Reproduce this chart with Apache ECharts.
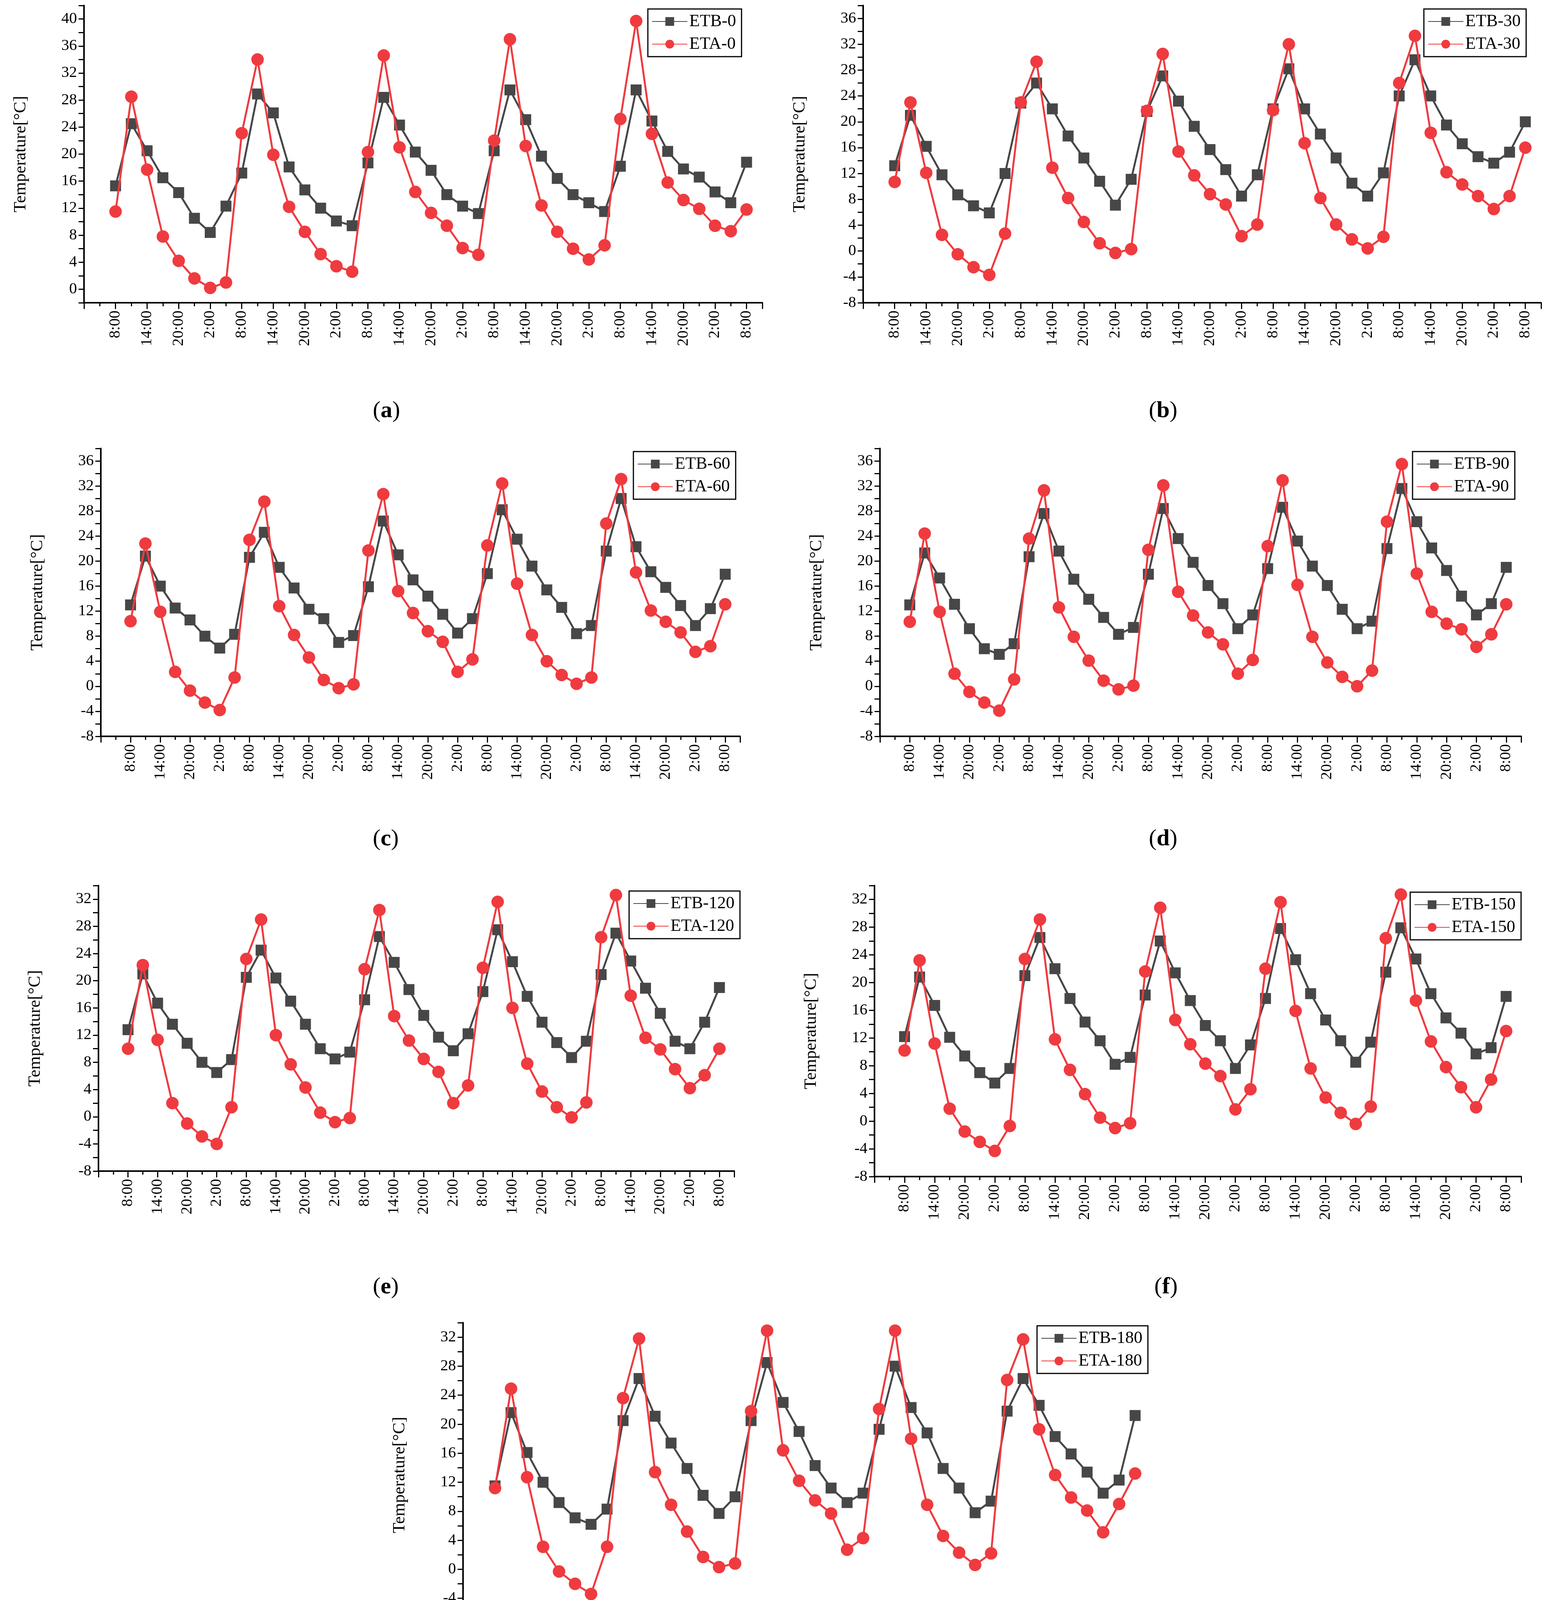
<!DOCTYPE html>
<html><head><meta charset="utf-8">
<script src="https://cdn.jsdelivr.net/npm/echarts@6/dist/echarts.min.js"></script>
<style>html,body{margin:0;padding:0;background:#fff}#c{width:3954px;height:4488px}</style>
</head><body><div id="c"></div>
<script>
const timeLabels = ['8:00','11:00','14:00','17:00','20:00','23:00','2:00','5:00'];
const categories = [];
for (let d = 0; d < 5; d++) for (const t of timeLabels) categories.push(t);
categories.push('8:00');

const panelNames = ['0','30','60','90','120','150','180'];
const letters = ['a','b','c','d','e','f','g'];

const ETB_0 = [15.3,24.5,20.5,16.5,14.3,10.5,8.4,12.3, 17.2,28.9,26.1,18.1,14.7,12.0,10.1,9.4, 18.7,28.4,24.3,20.3,17.6,14.0,12.3,11.2, 20.5,29.5,25.1,19.7,16.4,14.0,12.8,11.5, 18.2,29.5,24.9,20.4,17.8,16.6,14.4,12.8, 18.8];
const ETA_0 = [11.5,28.5,17.7,7.8,4.2,1.6,0.2,1.0, 23.1,34.0,19.9,12.2,8.5,5.2,3.4,2.6, 20.3,34.6,21.0,14.4,11.3,9.4,6.1,5.1, 22.0,37.0,21.2,12.4,8.5,6.0,4.4,6.5, 25.2,39.7,23.0,15.8,13.2,11.9,9.4,8.6, 11.8];
const ETB_30 = [13.2,21.0,16.2,11.8,8.7,7.0,5.9,12.0, 22.9,26.0,22.0,17.8,14.4,10.8,7.1,11.1, 21.6,27.1,23.2,19.3,15.7,12.6,8.5,11.8, 22.0,28.2,22.0,18.1,14.4,10.5,8.5,12.1, 24.0,29.6,24.0,19.5,16.6,14.6,13.6,15.3, 20.0];
const ETA_30 = [10.7,23.0,12.1,2.5,-0.5,-2.5,-3.7,2.7, 23.0,29.3,12.9,8.2,4.5,1.2,-0.3,0.3, 21.7,30.5,15.4,11.7,8.8,7.2,2.3,4.1, 21.8,32.0,16.7,8.2,4.1,1.8,0.4,2.2, 26.0,33.3,18.3,12.2,10.3,8.5,6.5,8.5, 16.0];
const ETB_60 = [13.0,20.8,16.0,12.5,10.6,8.0,6.1,8.3, 20.6,24.6,19.0,15.7,12.3,10.8,7.0,8.1, 15.9,26.4,21.0,17.0,14.4,11.5,8.5,10.8, 18.0,28.2,23.5,19.2,15.4,12.6,8.4,9.7, 21.6,30.0,22.3,18.3,15.8,12.9,9.7,12.4, 17.9];
const ETA_60 = [10.4,22.8,11.9,2.3,-0.7,-2.6,-3.8,1.4, 23.4,29.5,12.8,8.2,4.6,1.0,-0.3,0.3, 21.7,30.7,15.2,11.7,8.8,7.1,2.3,4.3, 22.5,32.4,16.4,8.2,4.0,1.8,0.4,1.4, 26.0,33.1,18.2,12.1,10.3,8.6,5.5,6.4, 13.1];
const ETB_90 = [13.0,21.3,17.3,13.1,9.2,6.0,5.1,6.8, 20.7,27.6,21.6,17.1,13.9,11.0,8.3,9.4, 17.9,28.4,23.6,19.8,16.1,13.2,9.2,11.4, 18.8,28.6,23.2,19.2,16.1,12.3,9.2,10.4, 22.0,31.6,26.3,22.1,18.5,14.4,11.4,13.2, 19.0];
const ETA_90 = [10.3,24.4,11.9,2.0,-0.9,-2.6,-3.9,1.1, 23.6,31.3,12.6,7.9,4.1,0.9,-0.5,0.1, 21.8,32.1,15.1,11.3,8.6,6.7,2.0,4.2, 22.4,32.9,16.2,7.9,3.8,1.5,0.0,2.5, 26.3,35.5,18.0,11.9,10.0,9.1,6.3,8.3, 13.1];
const ETB_120 = [12.8,21.0,16.7,13.6,10.8,8.0,6.5,8.4, 20.5,24.5,20.4,17.0,13.6,10.0,8.5,9.5, 17.2,26.5,22.7,18.7,14.9,11.7,9.7,12.2, 18.4,27.5,22.8,17.7,13.9,10.9,8.7,11.1, 20.9,27.0,22.9,18.9,15.2,11.1,10.0,13.9, 19.0];
const ETA_120 = [10.0,22.3,11.3,2.0,-1.0,-2.9,-4.0,1.4, 23.2,29.0,12.0,7.7,4.3,0.6,-0.8,-0.2, 21.7,30.4,14.8,11.2,8.5,6.6,2.0,4.6, 21.9,31.6,16.0,7.8,3.7,1.4,-0.1,2.1, 26.4,32.6,17.8,11.6,9.9,7.0,4.2,6.1, 10.0];
const ETB_150 = [12.2,20.8,16.7,12.1,9.4,7.0,5.5,7.6, 21.0,26.5,22.0,17.7,14.3,11.6,8.2,9.2, 18.2,26.0,21.4,17.4,13.8,11.6,7.6,11.0, 17.7,27.8,23.3,18.4,14.6,11.6,8.5,11.4, 21.5,27.9,23.4,18.4,14.9,12.7,9.7,10.6, 18.0];
const ETA_150 = [10.2,23.2,11.2,1.8,-1.5,-3.0,-4.3,-0.7, 23.4,29.1,11.8,7.4,3.9,0.5,-1.0,-0.3, 21.6,30.8,14.6,11.1,8.3,6.5,1.7,4.6, 22.0,31.6,15.9,7.6,3.4,1.2,-0.4,2.1, 26.4,32.7,17.4,11.5,7.8,4.9,2.0,6.0, 13.0];
const ETB_180 = [11.5,21.6,16.1,12.0,9.2,7.1,6.2,8.3, 20.5,26.3,21.1,17.4,13.9,10.2,7.7,10.0, 20.5,28.5,23.0,19.0,14.3,11.2,9.2,10.5, 19.3,28.0,22.3,18.8,13.9,11.2,7.8,9.4, 21.8,26.3,22.6,18.3,15.9,13.4,10.5,12.3, 21.2];
const ETA_180 = [11.2,24.9,12.7,3.1,-0.3,-2.0,-3.4,3.1, 23.6,31.8,13.4,8.9,5.2,1.7,0.3,0.8, 21.8,32.9,16.4,12.2,9.5,7.7,2.7,4.3, 22.1,32.9,18.0,8.9,4.6,2.3,0.6,2.2, 26.1,31.7,19.3,13.0,9.9,8.1,5.1,9.0, 13.2];

const ETB = [ETB_0,ETB_30,ETB_60,ETB_90,ETB_120,ETB_150,ETB_180];
const ETA = [ETA_0,ETA_30,ETA_60,ETA_90,ETA_120,ETA_150,ETA_180];
const yRanges = [[-2,42,0,40],[-8,38,-8,36],[-8,38,-8,36],[-8,38,-8,36],[-8,34,-8,32],[-8,34,-8,32],[-8,34,-8,32]];

const grids = [
  {left:215, top:14, right:3954-1951, bottom:4488-775},
  {left:2209, top:14, right:3954-3944, bottom:4488-775},
  {left:258, top:1148, right:3954-1894, bottom:4488-1885},
  {left:2252, top:1148, right:3954-3893, bottom:4488-1885},
  {left:252, top:2267, right:3954-1879, bottom:4488-2998},
  {left:2238, top:2267, right:3954-3893, bottom:4488-3012},
  {left:1185, top:3386, right:3954-2946, bottom:4488-4166}
];
const legendPos = [[1658,23],[3644,23],[1621,1156],[3615,1156],[1610,2281],[3609,2284],[2654,3394]];
const letterPos = [[984,1056],[2970,1056],[984,2152],[2970,2152],[984,3299],[2984,3299],[1988,4441]];

const FONT = 'Liberation Serif';
const opt = {backgroundColor:'#fff', animation:false, grid:[], xAxis:[], yAxis:[], series:[], legend:[], graphic:[]};
for (let i = 0; i < 7; i++) {
  opt.grid.push(Object.assign({containLabel:false}, grids[i]));
  opt.xAxis.push({
    type:'value', gridIndex:i, min:-2, max:41, interval:2,
    axisLine:{show:true, onZero:false, lineStyle:{color:'#000', width:4}},
    axisTick:{show:true, length:16, inside:false, lineStyle:{color:'#000', width:3}},
    minorTick:{show:true, splitNumber:2, length:9, lineStyle:{color:'#000', width:3}},
    splitLine:{show:false},
    axisLabel:{rotate:90, margin:20, fontFamily:FONT, fontSize:40, color:'#000',
      formatter:v => (v >= 0 && v <= 40 && v % 2 === 0) ? categories[v] : ''}
  });
  const yr = yRanges[i];
  opt.yAxis.push({
    type:'value', gridIndex:i, min:yr[0], max:yr[1], interval:2,
    name:'Temperature[°C]', nameLocation:'middle', nameGap:140,
    nameTextStyle:{fontFamily:FONT, fontSize:44, color:'#000'},
    axisLine:{show:true, onZero:false, lineStyle:{color:'#000', width:4}},
    axisTick:{show:true, length:14, lineStyle:{color:'#000', width:3}},
    splitLine:{show:false},
    axisLabel:{margin:18, fontFamily:FONT, fontSize:40, color:'#000',
      formatter:v => (v >= yr[2] && v <= yr[3] && v % 4 === 0) ? String(v) : ''}
  });
  const nB = 'ETB-' + panelNames[i], nA = 'ETA-' + panelNames[i];
  opt.series.push({
    name:nB, type:'line', xAxisIndex:i, yAxisIndex:i,
    data:ETB[i].map((v,k)=>[k,v]), symbol:'rect', symbolSize:28,
    itemStyle:{color:'#474747'}, lineStyle:{color:'#474747', width:5}, z:2
  });
  opt.series.push({
    name:nA, type:'line', xAxisIndex:i, yAxisIndex:i,
    data:ETA[i].map((v,k)=>[k,v]), symbol:'circle', symbolSize:32,
    itemStyle:{color:'#ef3b3f'}, lineStyle:{color:'#ef3b3f', width:5}, z:3
  });
  opt.legend.push({
    data:[nB, nA],
    left:legendPos[i][0], top:legendPos[i][1], orient:'vertical',
    borderColor:'#000', borderWidth:3, padding:[10,14,10,10], itemGap:14,
    itemWidth:90, itemHeight:28,
    textStyle:{fontFamily:FONT, fontSize:44, color:'#000'}
  });
  opt.graphic.push({
    type:'text', left:letterPos[i][0]-30, top:letterPos[i][1]-34,
    style:{text:'{n|(}{b|' + letters[i] + '}{n|)}', fontFamily:FONT,
      rich:{n:{fontFamily:FONT, fontSize:60, fill:'#000'}, b:{fontFamily:FONT, fontSize:60, fontWeight:'bold', fill:'#000'}}}
  });
}
const chart = echarts.init(document.getElementById('c'));
chart.setOption(opt);
</script></body></html>
